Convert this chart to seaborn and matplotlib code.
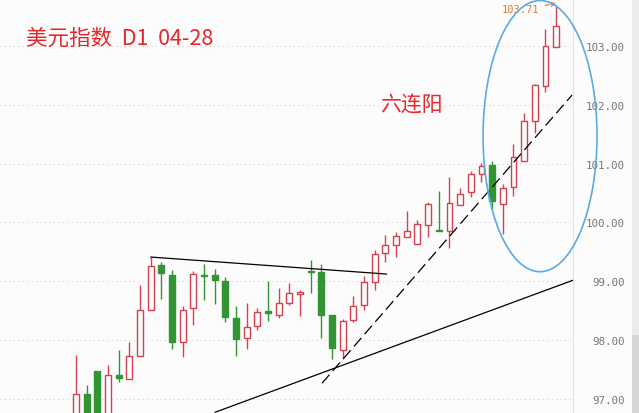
import numpy as np
import seaborn as sns
import matplotlib.pyplot as plt
from matplotlib.patches import Ellipse, Rectangle

# daily candles, dollar index
opens = [96.55, 97.08, 97.47, 96.70, 97.40, 97.34, 97.72, 98.51, 99.28, 99.10,
         97.96, 98.54, 99.11, 99.10, 99.01, 98.37, 98.03, 98.23, 98.49, 98.42,
         98.62, 98.78, 99.18, 99.15, 98.42, 97.83, 98.33, 98.60, 98.99, 99.48,
         99.62, 99.75, 99.64, 99.96, 99.86, 99.85, 100.30, 100.51, 100.82, 100.98,
         100.31, 100.60, 101.05, 101.72, 102.32, 102.98]
highs = [97.74, 97.23, 97.47, 97.57, 97.83, 97.96, 98.93, 99.41, 99.32, 99.19,
         98.58, 99.17, 99.29, 99.20, 99.07, 98.58, 98.62, 98.54, 99.00, 98.88,
         98.97, 98.85, 99.36, 99.29, 98.42, 98.36, 98.74, 99.08, 99.53, 99.79,
         99.83, 100.19, 100.04, 100.34, 100.53, 100.77, 100.58, 100.88, 101.02, 101.05,
         100.65, 101.33, 101.86, 102.36, 103.29, 103.71]
lows = [96.45, 96.50, 96.55, 96.60, 97.28, 97.34, 97.72, 98.51, 98.70, 97.84,
        97.70, 98.26, 98.68, 98.61, 98.30, 97.72, 97.84, 98.16, 98.32, 98.37,
        98.60, 98.40, 98.79, 98.03, 97.68, 97.68, 98.30, 98.51, 98.84, 99.32,
        99.41, 99.75, 99.63, 99.75, 99.85, 99.57, 100.30, 100.44, 100.69, 100.23,
        99.80, 100.45, 101.05, 101.53, 102.23, 102.98]
closes = [97.07, 96.60, 96.65, 97.40, 97.35, 97.72, 98.50, 99.25, 99.13, 97.97,
          98.50, 99.12, 99.09, 99.02, 98.39, 98.01, 98.21, 98.47, 98.46, 98.62,
          98.80, 98.81, 99.16, 98.42, 97.86, 98.32, 98.57, 98.98, 99.47, 99.62,
          99.76, 99.85, 99.98, 100.31, 99.85, 100.33, 100.48, 100.82, 100.96, 100.36,
          100.59, 101.11, 101.73, 102.34, 103.00, 103.34]

y_ticks = [97, 98, 99, 100, 101, 102, 103]
y_labels = ["97.00", "98.00", "99.00", "100.00", "101.00", "102.00", "103.00"]

# drawn lines (candle index, price)
top_line_x = [7, 29.12]
top_line_y = [99.41, 99.12]
trend_x = [23.06, 46.49]
trend_y = [97.26, 102.17]
support_x = [13.03, 46.58]
support_y = [96.765, 99.015]

bg = "#fcfcfc"
red = "#d2434f"
green = "#339433"

sns.set_theme(style="white")
plt.rcParams['font.family'] = ['Noto Sans CJK SC', 'DejaVu Sans']

fig = plt.figure(figsize=(6.39, 4.14), dpi=100, facecolor=bg)
ax = fig.add_axes([0, 0, 573 / 639, 1])
ax.set_facecolor(bg)

df_x = np.arange(len(opens))
o = np.array(opens); c = np.array(closes)
up = c >= o
col = np.where(up, red, green)

ax.vlines(df_x, lows, highs, colors=col, lw=1, zorder=2)
body_h = np.maximum(np.abs(c - o), 0.015)
ax.bar(df_x[up], body_h[up], bottom=o[up], width=0.55,
       facecolor=bg, edgecolor=red, lw=1, zorder=3)
ax.bar(df_x[~up], body_h[~up], bottom=c[~up], width=0.55,
       facecolor=green, edgecolor=green, lw=1, zorder=3)

sns.lineplot(x=top_line_x, y=top_line_y, color="black", lw=0.9, ax=ax, zorder=4)
sns.lineplot(x=support_x, y=support_y, color="black", lw=0.9, ax=ax, zorder=4)
ax.plot(trend_x, trend_y, color="black", lw=0.9, ls=(0, (9, 4)), zorder=4)

ax.add_patch(Ellipse((43.49, 101.47), 10.68, 4.62, fill=False,
                     edgecolor="#5aaae6", lw=1.2, clip_on=False, zorder=5))

ax.annotate("103.71", xy=(45, 103.73), xytext=(43.4, 103.63),
            fontsize=7.5, color="#e07a2a", family="DejaVu Sans Mono",
            ha="right", va="center",
            arrowprops=dict(arrowstyle="->", color="#e07a2a", lw=0.8, ls="--",
                            shrinkA=2, shrinkB=0))

ax.text(-4.65, 103.14, "美元指数  D1  04-28", color="#e8262a", fontsize=15.5,
        va="center", ha="left")
ax.text(28.5, 102.0, "六连阳", color="#e8262a", fontsize=15,
        va="center", ha="left")

ax.set_xlim(-7.12, 46.58)
ax.set_ylim(96.753, 103.806)
ax.set_xticks([])
ax.set_yticks(y_ticks)
ax.yaxis.tick_right()
ax.set_yticklabels(y_labels, family="DejaVu Sans Mono", fontsize=7.8,
                   color="#777777", ha="right")
ax.tick_params(axis="y", length=0, pad=37)
ax.grid(axis="y", color="#d0d0d0", ls=(0, (1, 3)), lw=0.8)
ax.grid(axis="x", visible=False)
for s in ["top", "left", "bottom"]:
    ax.spines[s].set_visible(False)
ax.spines["right"].set_color("#e2e2e2")
ax.spines["right"].set_linewidth(0.8)

# scroll strip on the far right
fig.patches.append(Rectangle((632 / 639, 0), 7 / 639, 1, transform=fig.transFigure,
                             facecolor="#ebebeb", edgecolor="none"))
fig.patches.append(Rectangle((632 / 639, 0), 7 / 639, 78 / 414, transform=fig.transFigure,
                             facecolor="#d6d6d6", edgecolor="none"))

fig.savefig("out.png", dpi=100, facecolor=bg)
